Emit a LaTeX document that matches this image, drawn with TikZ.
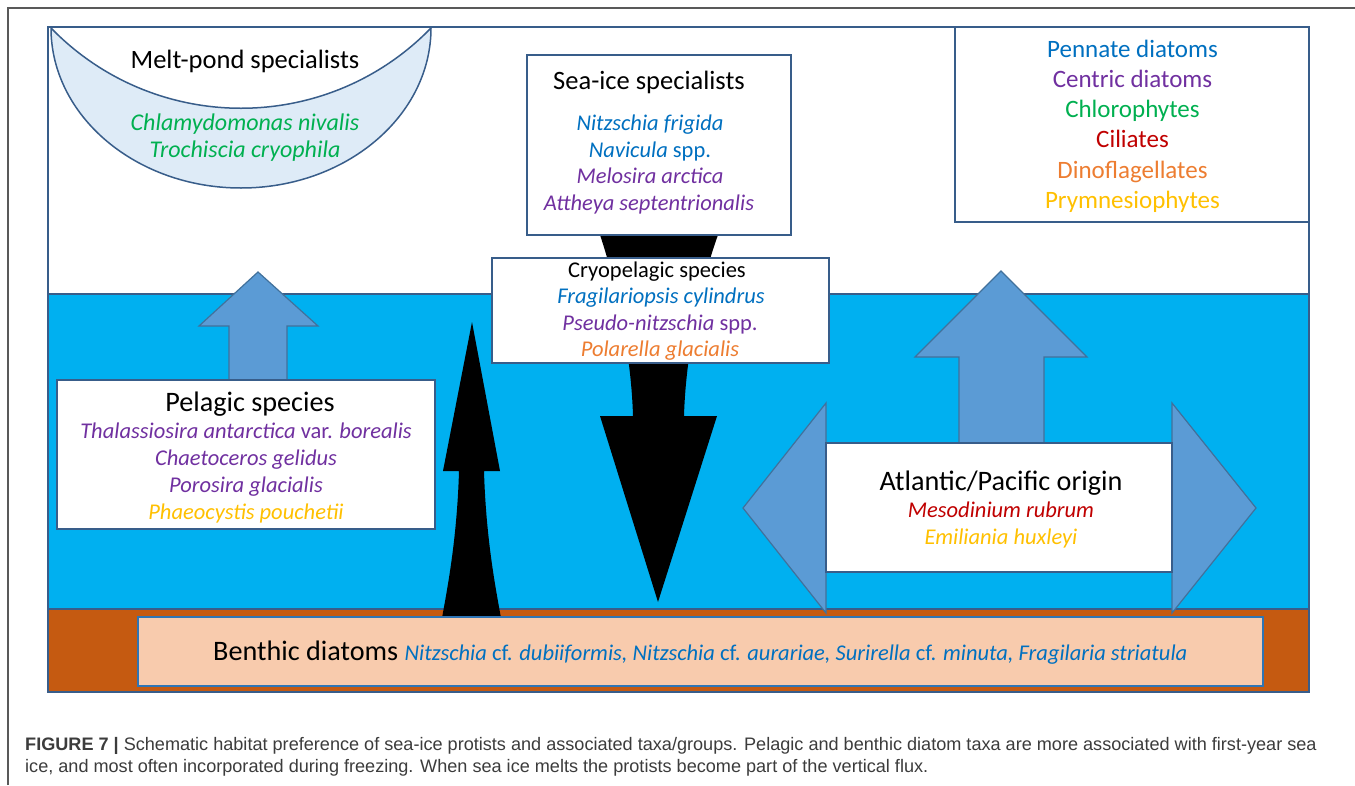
\documentclass[tikz,border=0pt]{standalone}
\usepackage{fontspec}
\setmainfont{Carlito}
\newfontfamily\capfont{Liberation Sans}
\definecolor{cblue}{HTML}{0070C0}
\definecolor{cpurple}{HTML}{7030A0}
\definecolor{cgreen}{HTML}{00B050}
\definecolor{cred}{HTML}{C00000}
\definecolor{corange}{HTML}{ED7D31}
\definecolor{cgold}{HTML}{FFC000}
\definecolor{sea}{HTML}{00B0F0}
\definecolor{mud}{HTML}{C55A11}
\definecolor{sand}{HTML}{F8CBAD}
\definecolor{edge}{HTML}{385D8A}
\definecolor{benthedge}{HTML}{2E75B6}
\definecolor{arrowfill}{HTML}{5B9BD5}
\definecolor{arrowedge}{HTML}{41719C}
\definecolor{pond}{HTML}{DEEBF7}
\definecolor{capgray}{HTML}{3C3C3C}
\begin{document}
\begin{tikzpicture}[x=1pt,y=-1pt,
  box/.style={draw=edge,line width=1.5pt,fill=white,inner sep=0pt},
  bluearrow/.style={draw=arrowedge,line width=1.2pt,fill=arrowfill,line join=miter},
  blackarrow/.style={fill=black},
  head/.style={anchor=base,inner sep=0pt,font=\fontsize{26.5}{30}\selectfont},
  bighead/.style={anchor=base,inner sep=0pt,font=\fontsize{28.2}{32}\selectfont},
  sp/.style={anchor=base,inner sep=0pt,font=\fontsize{22.5}{27}\selectfont\itshape},
  leg/.style={anchor=base,inner sep=0pt,font=\fontsize{25}{30}\selectfont},
  captext/.style={anchor=base west,inner sep=0pt,text=capgray,font=\capfont\fontsize{18.1}{21}\selectfont},
]
\useasboundingbox (0,0) rectangle (1355,785);
\fill[white] (0,0) rectangle (1355,785);
% outer frame
\draw[capgray!85,line width=1.2pt] (8,785) -- (8,8) -- (1355,8);
% panel layers
\fill[white] (48,27) rectangle (1309,294);
\draw[draw=edge,fill=sea,line width=1.2pt] (48,294) rectangle (1309,609);
\draw[draw=edge,fill=mud,line width=1.2pt] (48,609) rectangle (1309,692);
% melt pond
\draw[draw=edge,fill=pond,line width=1.5pt] (51,28) .. controls (51,116) and (136,188) .. (241,188)
  .. controls (346,188) and (431,116) .. (431,28) .. controls (327,135) and (155,135) .. (51,28) -- cycle;
% black arrows
\fill[blackarrow] (600,235) .. controls (612,270) and (631,345) .. (633,416) -- (600,416) -- (658,602)
  -- (717,416) -- (684,416) .. controls (686,345) and (705,270) .. (718,235) -- cycle;
\fill[blackarrow] (472,322) -- (500,471) -- (484,471) .. controls (486,540) and (496,590) .. (501,618)
  -- (442,618) .. controls (447,590) and (457,540) .. (459,471) -- (443,471) -- cycle;
% blue arrows
\draw[bluearrow] (258,272) -- (318,326) -- (287,326) -- (287,380) -- (229,380) -- (229,326) -- (199,326) -- cycle;
\draw[bluearrow] (1001,271) -- (1087,357) -- (1044,357) -- (1044,443) -- (959,443) -- (959,357) -- (915,357) -- cycle;
\draw[bluearrow] (743,508) -- (826,403) -- (826,460) -- (1172,460) -- (1172,403) -- (1256,508)
  -- (1172,613) -- (1172,556) -- (826,556) -- (826,613) -- cycle;
% boxes
\node[box,minimum width=264pt,minimum height=180pt] (seaice) at (659,145) {};
\node[box,minimum width=337pt,minimum height=105pt] (cryo) at (660.5,310.5) {};
\node[box,minimum width=354pt,minimum height=195pt] (legend) at (1132,124.5) {};
\node[box,minimum width=378pt,minimum height=149pt] (pelagic) at (246,454.5) {};
\node[box,minimum width=346pt,minimum height=129pt] (atlantic) at (999,507.5) {};
\node[draw=benthedge,line width=2pt,fill=sand,inner sep=0pt,minimum width=1125pt,minimum height=69pt] (benthic) at (700.5,651.5) {};
% panel border
\draw[edge,line width=1.5pt] (48,27) rectangle (1309,692);
% melt pond text
\node[head] (mpT) at (245,68) {Melt-pond specialists};
\node[sp,text=cgreen,font=\fontsize{24}{28}\selectfont\itshape] (mp1) at (245,130) {Chlamydomonas nivalis};
\node[sp,text=cgreen,font=\fontsize{24}{28}\selectfont\itshape] (mp2) at (245,157) {Trochiscia cryophila};
% sea ice
\node[head] (siT) at (649,89) {Sea-ice specialists};
\node[sp,text=cblue] (si1) at (650,130) {Nitzschia frigida};
\node[sp,text=cblue] (si2) at (650,157) {Navicula {\upshape spp.}};
\node[sp,text=cpurple] (si3) at (650,183) {Melosira arctica};
\node[sp,text=cpurple] (si4) at (649,210) {Attheya septentrionalis};
% cryopelagic
\node[anchor=base,inner sep=0pt,font=\fontsize{22.5}{27}\selectfont] (crT) at (657,277) {Cryopelagic species};
\node[sp,text=cblue] (cr1) at (661,303) {Fragilariopsis cylindrus};
\node[sp,text=cpurple] (cr2) at (660,330) {Pseudo-nitzschia {\upshape spp.}};
\node[sp,text=corange] (cr3) at (660,356) {Polarella glacialis};
% legend
\node[leg,text=cblue] (lg1) at (1132.5,57) {Pennate diatoms};
\node[leg,text=cpurple] (lg2) at (1132.5,87) {Centric diatoms};
\node[leg,text=cgreen] (lg3) at (1132.5,117) {Chlorophytes};
\node[leg,text=cred] (lg4) at (1132.5,147) {Ciliates};
\node[leg,text=corange] (lg5) at (1132.5,178) {Dinoflagellates};
\node[leg,text=cgold] (lg6) at (1132.5,208) {Prymnesiophytes};
% pelagic
\node[bighead] (peT) at (250,411) {Pelagic species};
\node[sp,text=cpurple] (pe1) at (246,438) {Thalassiosira antarctica {\upshape var.} borealis};
\node[sp,text=cpurple] (pe2) at (246,465) {Chaetoceros gelidus};
\node[sp,text=cpurple] (pe3) at (246,492) {Porosira glacialis};
\node[sp,text=cgold] (pe4) at (246,519) {Phaeocystis pouchetii};
% atlantic
\node[bighead] (atT) at (1001,490) {Atlantic/Pacific origin};
\node[sp,text=cred] (at1) at (1001,517) {Mesodinium rubrum};
\node[sp,text=cgold] (at2) at (1001,544) {Emiliania huxleyi};
% benthic
\node[anchor=base west,inner sep=0pt] (beT) at (213,660) {\fontsize{28.2}{32}\selectfont Benthic diatoms\ {\color{cblue}\fontsize{22.5}{27}\selectfont\itshape Nitzschia {\upshape cf.} dubiiformis, Nitzschia {\upshape cf.} aurariae, Surirella {\upshape cf.} minuta, Fragilaria striatula}};
% caption
\node[captext] (cap1) at (25,750) {\textbf{FIGURE 7 |} Schematic habitat preference of sea-ice protists and associated taxa/groups. Pelagic and benthic diatom taxa are more associated with first-year sea};
\node[captext] (cap2) at (25,772) {ice, and most often incorporated during freezing. When sea ice melts the protists become part of the vertical flux.};
\end{tikzpicture}
\end{document}
